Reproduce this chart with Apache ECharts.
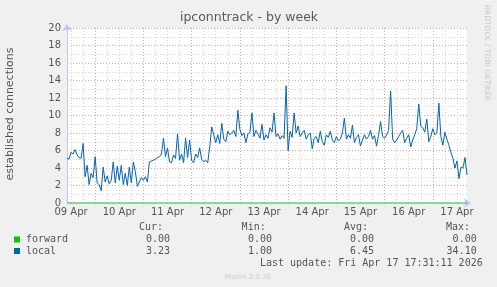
<!DOCTYPE html>
<html>
<head>
<meta charset="utf-8">
<script src="https://cdn.jsdelivr.net/npm/echarts@6/dist/echarts.min.js"></script>
<style>
html,body{margin:0;padding:0;background:#f0f0f0;}
#c{width:497px;height:287px;}
</style>
</head>
<body>
<div id="c"></div>
<script>
// Day labels shown at noon of each day
const dayLabels = ['09 Apr','10 Apr','11 Apr','12 Apr','13 Apr','14 Apr','15 Apr','16 Apr','17 Apr'];
// first sample: Apr 9 10:00, hourly samples
const firstHour = 10;
// series: local (established connections)
const localValues = [
  5.1, 5.0, 5.8, 5.6, 6.1, 5.5, 5.2, 5.1, 6.8, 3.0,
  4.3, 2.1, 3.4, 2.9, 5.3, 2.3, 2.1, 1.4, 4.1, 2.4,
  3.1, 2.2, 2.6, 4.7, 2.3, 4.2, 2.6, 4.3, 2.1, 3.4,
  2.0, 4.1, 2.3, 4.7, 3.6, 1.9, 2.4, 2.9, 2.6, 3.0,
  2.4, 4.7, 4.8, 4.9, 5.0, 5.2, 5.3, 5.6, 7.4, 5.3,
  6.3, 4.7, 4.6, 5.5, 5.1, 7.9, 4.9, 5.6, 4.6, 7.4,
  5.2, 7.2, 4.9, 4.6, 5.6, 5.2, 6.3, 5.0, 4.7, 4.9,
  4.6, 6.4, 8.7, 7.8, 6.9, 7.8, 6.8, 9.1, 7.3, 7.0,
  8.2, 7.8, 8.0, 8.3, 7.6, 10.6, 8.4, 7.7, 8.0, 6.9,
  7.9, 8.1, 10.3, 7.6, 8.3, 7.9, 7.4, 9.0, 7.2, 7.8,
  7.4, 8.6, 8.1, 10.3, 7.6, 7.9, 7.3, 7.7, 7.4, 13.4,
  6.0, 8.2, 7.5, 10.3, 8.0, 8.8, 7.6, 8.0, 8.3, 7.3,
  7.8, 8.0, 6.2, 7.4, 7.6, 6.9, 8.2, 7.0, 6.6, 7.8,
  7.5, 8.2, 7.2, 6.9, 7.6, 7.1, 7.3, 8.0, 9.7, 7.3,
  7.8, 7.4, 8.9, 6.9, 7.5, 7.8, 6.5, 7.2, 7.8, 7.3,
  7.6, 8.3, 7.3, 7.7, 6.5, 7.8, 9.3, 7.6, 7.4, 7.8,
  8.3, 12.8, 7.3, 6.9, 7.2, 7.6, 8.0, 8.3, 6.9, 7.4,
  7.8, 6.4, 7.2, 7.8, 8.5, 11.3, 8.8, 8.6, 8.1, 9.6,
  7.0, 7.6, 8.5, 7.8, 8.0, 11.4, 7.6, 6.6, 8.1, 7.3,
  6.6, 5.8, 5.1, 4.0, 4.8, 2.8, 4.1, 4.0, 5.2, 3.2
];
// series: forward
const forwardValues = [
  0,0,0,0,0,0,0,0,0,0, 0,0,0,0,0,0,0,0,0,0,
  0,0,0,0,0,0,0,0,0,0, 0,0,0,0,0,0,0,0,0,0,
  0,0,0,0,0,0,0,0,0,0, 0,0,0,0,0,0,0,0,0,0,
  0,0,0,0,0,0,0,0,0,0, 0,0,0,0,0,0,0,0,0,0,
  0,0,0,0,0,0,0,0,0,0, 0,0,0,0,0,0,0,0,0,0,
  0,0,0,0,0,0,0,0,0,0, 0,0,0,0,0,0,0,0,0,0,
  0,0,0,0,0,0,0,0,0,0, 0,0,0,0,0,0,0,0,0,0,
  0,0,0,0,0,0,0,0,0,0, 0,0,0,0,0,0,0,0,0,0,
  0,0,0,0,0,0,0,0,0,0, 0,0,0,0,0,0,0,0,0,0,
  0,0,0,0,0,0,0,0,0,0, 0,0,0,0,0,0,0,0,0,0
];
const legendNames = ['forward','local'];
const legendColors = ['#00cc00','#0066b3'];
const statHeaders = ['Cur:','Min:','Avg:','Max:'];
const forwardStats = ['0.00','0.00','0.00','0.00'];
const localStats = ['3.23','1.00','6.45','34.10'];

const hours = localValues.map((_, i) => String(firstHour + i));

const chart = echarts.init(document.getElementById('c'), null, {renderer: 'canvas'});
const sans = 'DejaVu Sans';
const mono = '10px "DejaVu Sans Mono"';
const txt = '#555555';
const grayDot = {color: '#d4d4d4', width: 1, type: [1, 2]};
const redDot = {color: '#eaa0a0', width: 1, type: [1, 2]};

function t(text, x, y, opts) {
  opts = opts || {};
  return {
    type: 'text', x: x, y: y, rotation: opts.rot || 0, z: 100,
    style: {
      text: text, font: opts.font || mono, fill: opts.fill || txt,
      align: opts.align || 'left', verticalAlign: 'middle',
      textAlign: opts.align || 'left', textVerticalAlign: 'middle'
    }
  };
}

const colX = [163, 265.7, 368, 470];
const valX = [170, 272, 374, 476.7];
const graphics = [
  t('ipconntrack - by week', 249, 18, {font: '12.5px ' + sans, align: 'center', fill: '#5a5a5a'}),
  t('established connections', 10, 114, {font: '11px ' + sans, align: 'center', rot: Math.PI / 2}),
  t('RRDTOOL / TOBI OETIKER', 487, 53, {font: '7.5px ' + sans, align: 'center', rot: -Math.PI / 2, fill: '#c8c8c8'}),
  t('Munin 2.0.76', 248, 277, {font: '7px ' + sans, align: 'center', fill: '#cccccc'}),
  t('Last update: Fri Apr 17 17:31:11 2026', 482.7, 263, {align: 'right'})
];
statHeaders.forEach((h, k) => graphics.push(t(h, colX[k], 227, {align: 'right'})));
const rowsY = [239.5, 251];
const rowsStats = [forwardStats, localStats];
legendNames.forEach((n, r) => {
  graphics.push({type: 'rect', shape: {x: 14, y: rowsY[r] - 3, width: 6, height: 6}, style: {fill: legendColors[r]}, z: 100});
  graphics.push(t(n, 26, rowsY[r]));
  rowsStats[r].forEach((v, k) => graphics.push(t(v, valX[k], rowsY[r], {align: 'right'})));
});

const axisBlue = '#c4c4f4';

chart.setOption({
  backgroundColor: '#f0f0f0',
  animation: false,
  grid: {left: 67, top: 28, width: 400, height: 175, show: true, backgroundColor: '#ffffff', borderWidth: 0},
  xAxis: [
    {
      type: 'category', data: hours, boundaryGap: false, position: 'bottom',
      axisLine: {show: true, lineStyle: {color: axisBlue, width: 1}, symbol: ['none', 'arrow'], symbolSize: [7, 7], symbolOffset: [0, 4]},
      axisTick: {show: false},
      splitLine: {show: false},
      axisLabel: {
        show: true, margin: 4, color: txt, fontFamily: sans, fontSize: 10,
        interval: (idx, val) => Number(val) % 24 === 12,
        formatter: (val) => dayLabels[Math.floor(Number(val) / 24)]
      },
      z: 1
    },
    {
      type: 'category', data: hours, boundaryGap: false, position: 'top',
      axisLine: {show: false}, axisTick: {show: false}, axisLabel: {show: false},
      splitLine: {show: true, interval: (idx, val) => Number(val) % 6 === 0 && Number(val) % 24 !== 0, lineStyle: grayDot}
    },
    {
      type: 'category', data: hours, boundaryGap: false, position: 'top',
      axisLine: {show: false}, axisTick: {show: false}, axisLabel: {show: false},
      splitLine: {show: true, interval: (idx, val) => Number(val) % 24 === 0, lineStyle: redDot}
    }
  ],
  yAxis: [
    {
      type: 'value', min: 0, max: 20, interval: 2,
      axisLine: {show: true, lineStyle: {color: axisBlue, width: 1}, symbol: ['none', 'arrow'], symbolSize: [7, 7], symbolOffset: [0, 4]},
      axisTick: {show: false},
      axisLabel: {color: txt, fontFamily: sans, fontSize: 10, margin: 6},
      splitLine: {show: true, lineStyle: redDot},
      minorTick: {show: false, splitNumber: 2},
      minorSplitLine: {show: true, lineStyle: grayDot}
    }
  ],
  series: [
    {
      name: 'forward', type: 'line', data: forwardValues, xAxisIndex: 0, yAxisIndex: 0,
      showSymbol: false, symbol: 'none', lineStyle: {color: legendColors[0], width: 1}, z: 3
    },
    {
      name: 'local', type: 'line', data: localValues, xAxisIndex: 0, yAxisIndex: 0,
      showSymbol: false, symbol: 'none', lineStyle: {color: legendColors[1], width: 1}, z: 4
    }
  ],
  graphic: graphics
});
</script>
</body>
</html>
